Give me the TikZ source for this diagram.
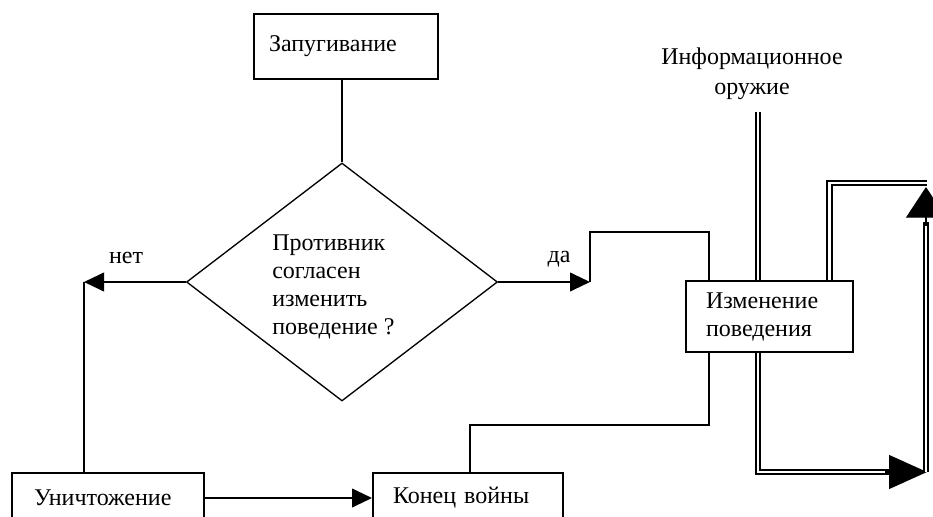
\documentclass[tikz,border=0pt]{standalone}
\usepackage{fontspec}
\setmainfont{Liberation Serif}
\usetikzlibrary{shapes.geometric,arrows.meta,calc}

\begin{document}
\begin{tikzpicture}[x=0.75pt,y=-0.75pt,
  txt/.style={font=\fontsize{18}{21}\selectfont},
  box/.style={txt, draw, line width=1.5pt, rectangle, align=left,
    inner ysep=0pt, anchor=north west},
  ln/.style={line width=1.5pt},
  arr/.style={-{Triangle[length=15pt,width=14pt]}},
  dbl/.style={double, line width=1.2pt, double distance=2.2pt},
  bigarr/.style={line width=1pt, -{Triangle[length=28.5pt,width=25.5pt]}},
  uparr/.style={line width=1pt, -{Triangle[length=23pt,width=30pt]}}
]
\useasboundingbox (0,0) rectangle (933,517);
\clip (0,0) rectangle (933,517);

% blocks
\node[box, minimum width=138pt, minimum height=48.75pt, inner xsep=11.25pt,
  text width=115.5pt] (zap) at (253,13) {Запугивание};
\node[box, minimum width=125.25pt, minimum height=53.25pt, inner xsep=15pt,
  text width=95.25pt] (izm) at (685,280) {Изменение\\поведения};
\node[box, minimum width=144pt, minimum height=37.5pt, inner xsep=16.5pt,
  text width=111pt] (unich) at (11,472) {Уничтожение};
\node[box, minimum width=142.5pt, minimum height=37.5pt, inner xsep=15pt,
  text width=112.5pt] (konec) at (372,472) {Конец войны};

% decision
\node[diamond, draw, line width=1pt, inner sep=0pt, aspect=1.3,
  minimum width=233.25pt, minimum height=178.5pt] (diam) at (342,282) {};
\node[txt, align=left, inner sep=0pt, anchor=west] (qtext) at (272,287)
  {Противник\\согласен\\изменить\\поведение ?};

% labels
\node[txt, inner sep=0pt] (no) at (126,258) {нет};
\node[txt, inner sep=0pt] (yes) at (559,259) {да};
\node[font=\fontsize{18}{22.5}\selectfont, align=center, inner sep=0pt]
  (info) at (752,74) {Информационное\\оружие};

% single connectors
\draw[ln] (zap.south -| diam.north) -- (diam.north);

\coordinate (noC) at (84,282);
\draw[ln, arr] (diam.west) -- (noC);
\draw[ln] (noC) -- (noC |- unich.north);

\coordinate (yesC) at (590,282);
\coordinate (yesT) at (590,232);
\coordinate (izmIn) at (709,280);
\draw[ln, arr] (diam.east) -- (yesC);
\draw[ln] (yesC) -- (yesT) -| (izmIn |- izm.north);

\draw[ln, arr] (unich.east) -- (konec.west);

\coordinate (kUp) at (470,425);
\coordinate (izmOut) at (709,351);
\draw[ln] (kUp |- konec.north) -- (kUp) -| (izmOut |- izm.south);

% double connectors
\coordinate (infoEnd) at (758,112);
\draw[dbl] (infoEnd) -- (infoEnd |- izm.north);

\coordinate (bl) at (758,472);
\coordinate (bm) at (891,472);
\coordinate (bs) at (885,472);
\coordinate (br) at (927,472);
\draw[dbl] (bl |- izm.south) -- (bl) -- (bm);
\draw[bigarr] (bs) -- (br);

\coordinate (rb) at (926,472);
\coordinate (rm) at (926,222);
\coordinate (rs) at (926,226);
\coordinate (rt) at (926,187);
\draw[dbl] (rb) -- (rm);
\draw[uparr] (rs) -- (rt);

\coordinate (loopL) at (829.5,183);
\coordinate (loopR) at (927,183);
\draw[dbl] (loopL |- izm.north) -- (loopL) -- (loopR);
\end{tikzpicture}
\end{document}
